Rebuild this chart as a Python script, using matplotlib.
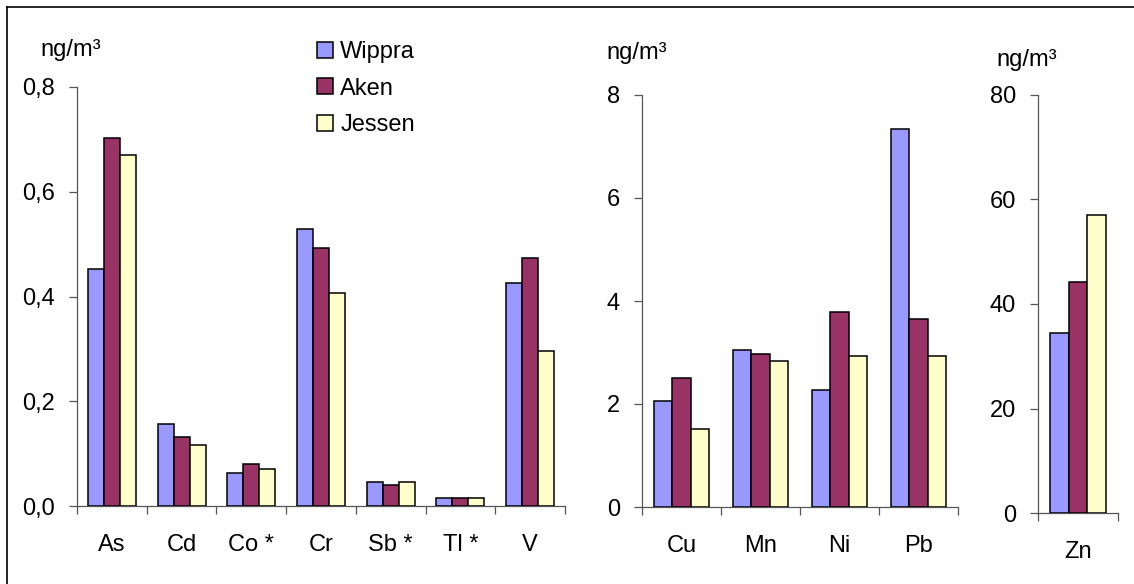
import matplotlib
matplotlib.use("Agg")
import matplotlib.pyplot as plt
from matplotlib.lines import Line2D
from matplotlib.patches import Patch
from matplotlib.ticker import FixedLocator, FuncFormatter
import numpy as np

plt.rcParams['font.family'] = ['Liberation Sans', 'DejaVu Sans']

series = ['Wippra', 'Aken', 'Jessen']
colors = ['#9999FF', '#993366', '#FFFFCC']

cats1 = ['As', 'Cd', 'Co *', 'Cr', 'Sb *', 'Tl *', 'V']
wippra1 = [0.452, 0.157, 0.063, 0.529, 0.046, 0.016, 0.426]
aken1 = [0.703, 0.132, 0.080, 0.493, 0.041, 0.016, 0.474]
jessen1 = [0.670, 0.116, 0.071, 0.407, 0.046, 0.016, 0.296]
yticks1 = [0.0, 0.2, 0.4, 0.6, 0.8]

cats2 = ['Cu', 'Mn', 'Ni', 'Pb']
wippra2 = [2.05, 3.04, 2.27, 7.34]
aken2 = [2.51, 2.98, 3.78, 3.66]
jessen2 = [1.52, 2.83, 2.94, 2.94]
yticks2 = [0, 2, 4, 6, 8]

cats3 = ['Zn']
wippra3 = [34.4]
aken3 = [44.2]
jessen3 = [57.0]
yticks3 = [0, 20, 40, 60, 80]

unit = 'ng/m³'

W, H = 1134, 584
fig = plt.figure(figsize=(W / 100, H / 100), dpi=100)

def px_axes(x0, x1, ybase, ytop):
    return fig.add_axes([x0 / W, (H - ybase) / H, (x1 - x0) / W, (ybase - ytop) / H])

FS = 17
SPINE = '#555555'

def draw(ax, cats, vals, yticks, fmt):
    n = len(cats)
    x = np.arange(n)
    bw = 0.23
    for i, (v, c) in enumerate(zip(vals, colors)):
        ax.bar(x + (i - 1) * bw, v, width=bw, color=c, edgecolor='black', linewidth=1.1, zorder=3)
    ax.set_xlim(-0.5, n - 0.5)
    ax.set_ylim(yticks[0], yticks[-1])
    for s in ['top', 'right']:
        ax.spines[s].set_visible(False)
    for s in ['left', 'bottom']:
        ax.spines[s].set_color(SPINE)
        ax.spines[s].set_linewidth(0.9)
    ax.set_yticks(yticks)
    ax.yaxis.set_major_formatter(FuncFormatter(fmt))
    ax.tick_params(axis='y', direction='out', length=6, width=0.9, color=SPINE,
                   labelsize=FS, pad=10)
    ax.set_xticks(x)
    ax.set_xticklabels(cats)
    ax.tick_params(axis='x', which='major', length=0, labelsize=FS, pad=20)
    ax.xaxis.set_minor_locator(FixedLocator(np.arange(n + 1) - 0.5))
    ax.tick_params(axis='x', which='minor', direction='out', length=6, width=0.9, color=SPINE)
    ax.patch.set_alpha(0)

ax1 = px_axes(77, 565, 506, 87)
draw(ax1, cats1, [wippra1, aken1, jessen1], yticks1, lambda v, p: f'{v:.1f}'.replace('.', ','))
ax2 = px_axes(642, 958, 507, 95)
draw(ax2, cats2, [wippra2, aken2, jessen2], yticks2, lambda v, p: f'{v:.0f}')
ax3 = px_axes(1038, 1118, 513, 95)
draw(ax3, cats3, [wippra3, aken3, jessen3], yticks3, lambda v, p: f'{v:.0f}')

# unit labels
fig.text(40 / W, 1 - 50 / H, unit, fontsize=FS, ha='left', va='center')
fig.text(606 / W, 1 - 53 / H, unit, fontsize=FS, ha='left', va='center')
fig.text(996 / W, 1 - 60 / H, unit, fontsize=FS, ha='left', va='center')

# legend
handles = [Patch(facecolor=c, edgecolor='black', linewidth=1.1) for c in colors]
fig.legend(handles, series, loc='upper left', bbox_to_anchor=(317 / W, 1 - 41 / H),
           frameon=False, fontsize=FS, handlelength=0.68, handleheight=0.68,
           handletextpad=0.3, labelspacing=0.62, borderpad=0, borderaxespad=0)

# outer frame (top and left edges visible)
fig.add_artist(Line2D([7 / W, 7 / W], [0, 1 - 7 / H], color='black', linewidth=1.2,
                      transform=fig.transFigure))
fig.add_artist(Line2D([7 / W, 1], [1 - 7 / H, 1 - 7 / H], color='black', linewidth=1.2,
                      transform=fig.transFigure))

fig.savefig('out.png', dpi=100)
